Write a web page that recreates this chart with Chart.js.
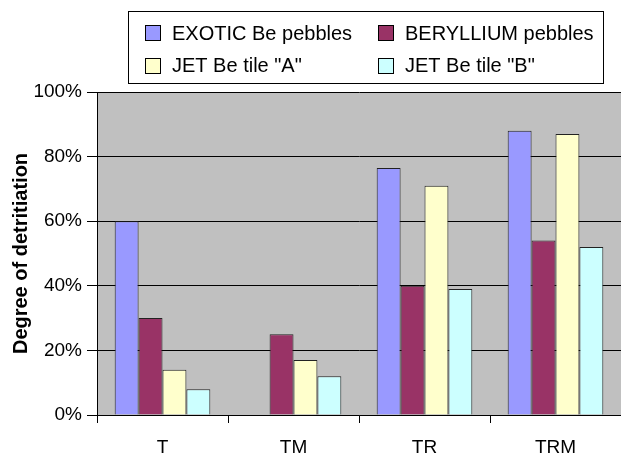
<!DOCTYPE html>
<html>
<head>
<meta charset="utf-8">
<script src="https://cdn.jsdelivr.net/npm/chart.js@4/dist/chart.umd.min.js"></script>
<style>
  html, body { margin: 0; padding: 0; background: #fff; overflow: hidden; }
  #wrap { width: 621px; height: 454px; }
</style>
</head>
<body>
<div id="wrap"><canvas id="c" width="621" height="454"></canvas></div>
<script>
// Treatment categories along the x axis
const categories = ['T', 'TM', 'TR', 'TRM'];

// Degree of detritiation (%) for each material
const exoticPebbles    = [60, null, 76.5, 88];
const berylliumPebbles = [30, 25, 40, 54];
const jetTileA         = [14, 17, 71, 87];
const jetTileB         = [8, 12, 39, 52];

const seriesNames = ['EXOTIC Be pebbles', 'BERYLLIUM pebbles', 'JET Be tile "A"', 'JET Be tile "B"'];
const seriesColors = ['#9999FF', '#993366', '#FFFFCC', '#CCFFFF'];

const yTicks = [0, 20, 40, 60, 80, 100];

const FONT = '"Liberation Sans", Arial, Helvetica, sans-serif';

// Plot background fill
const plotBackground = {
  id: 'plotBackground',
  beforeDraw(chart) {
    const { ctx, chartArea: a } = chart;
    ctx.save();
    ctx.fillStyle = '#C0C0C0';
    ctx.fillRect(a.left, a.top, a.right - a.left, a.bottom - a.top);
    ctx.restore();
  }
};

// Boxed two-column legend above the plot
const boxedLegend = {
  id: 'boxedLegend',
  afterDraw(chart) {
    const ctx = chart.ctx;
    const box = { left: 128.5, top: 11.5, right: 603.5, bottom: 83.5 };
    const colX = [145, 378];
    const swatchTop = [25, 58];
    const textMid = [34, 66.5];
    const sw = 15;
    ctx.save();
    ctx.fillStyle = '#fff';
    ctx.fillRect(box.left, box.top, box.right - box.left, box.bottom - box.top);
    ctx.strokeStyle = '#000';
    ctx.lineWidth = 1;
    ctx.strokeRect(box.left, box.top, box.right - box.left, box.bottom - box.top);
    ctx.font = '20px ' + FONT;
    ctx.textBaseline = 'middle';
    ctx.textAlign = 'left';
    chart.data.datasets.forEach((ds, i) => {
      const x = colX[i % 2];
      const row = Math.floor(i / 2);
      ctx.fillStyle = ds.backgroundColor;
      ctx.fillRect(x + 0.5, swatchTop[row] + 0.5, sw, sw);
      ctx.strokeStyle = '#000';
      ctx.strokeRect(x + 0.5, swatchTop[row] + 0.5, sw, sw);
      ctx.fillStyle = '#000';
      ctx.fillText(ds.label, x + 27, textMid[row]);
    });
    ctx.restore();
  }
};

const seriesData = [exoticPebbles, berylliumPebbles, jetTileA, jetTileB];

new Chart(document.getElementById('c'), {
  type: 'bar',
  data: {
    labels: categories,
    datasets: seriesData.map((d, i) => ({
      label: seriesNames[i],
      data: d,
      backgroundColor: seriesColors[i],
      borderColor: '#222',
      borderWidth: 1,
      categoryPercentage: 0.73,
      barPercentage: 1.0
    }))
  },
  options: {
    responsive: false,
    animation: false,
    events: [],
    layout: { padding: { top: 92, right: 0, left: 0, bottom: 0 } },
    plugins: {
      legend: { display: false },
      tooltip: { enabled: false },
      title: { display: false }
    },
    scales: {
      x: {
        afterFit(scale) { scale.height = 39; },
        grid: {
          offset: true,
          drawOnChartArea: false,
          drawTicks: true,
          tickLength: 8,
          color: '#000',
          lineWidth: 1
        },
        border: { display: true, color: '#000', width: 1 },
        ticks: {
          color: '#000',
          padding: 13,
          font: { family: FONT, size: 19 }
        }
      },
      y: {
        min: 0,
        max: 100,
        afterFit(scale) { scale.width = 97; },
        afterBuildTicks(scale) { scale.ticks = yTicks.map(v => ({ value: v })); },
        grid: {
          color: '#000',
          lineWidth: 1,
          drawTicks: true,
          tickLength: 10
        },
        border: { display: true, color: '#000', width: 1 },
        ticks: {
          color: '#000',
          padding: 5,
          font: { family: FONT, size: 19 },
          callback: v => v + '%'
        },
        title: {
          display: true,
          text: 'Degree of detritiation',
          color: '#000',
          font: { family: FONT, size: 20, weight: 'bold' },
          padding: { top: 9, bottom: 0 }
        }
      }
    }
  },
  plugins: [plotBackground, boxedLegend]
});
</script>
</body>
</html>
